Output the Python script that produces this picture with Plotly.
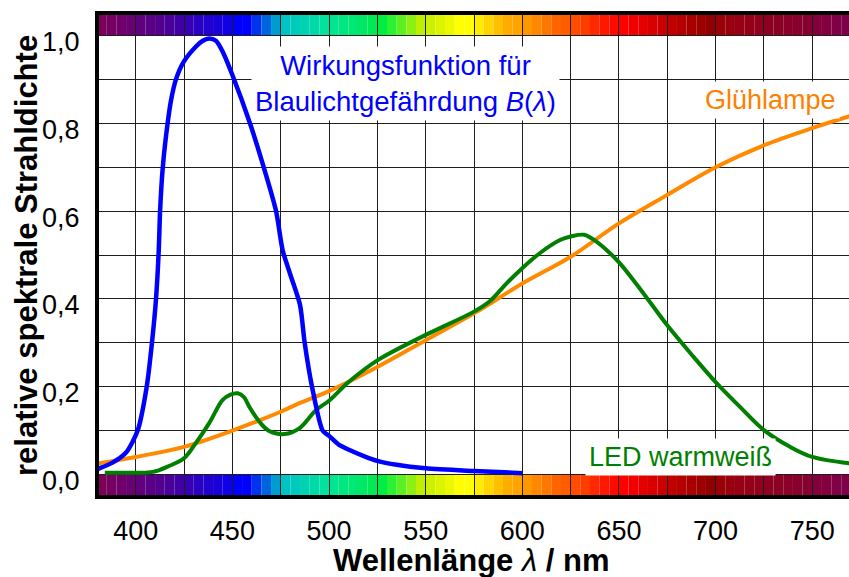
import plotly.graph_objects as go

# ---- data ----
wl_B = [380, 388, 395, 401, 405.7, 408.4, 410.5, 411.9, 412.6, 414, 416.5, 418.3, 420.8, 424.8, 431.2, 434.7,
        438, 441.5, 445, 450, 459.1, 466.2, 472.6, 476, 480, 485, 487.4, 491.2, 496.7, 500, 505, 510, 518,
        525, 535, 550, 575, 600]
val_B = [0.012, 0.027, 0.05, 0.10, 0.20, 0.30, 0.40, 0.51, 0.60, 0.70, 0.80, 0.853, 0.90, 0.94, 0.975, 0.988,
         0.993, 0.988, 0.963, 0.91, 0.80, 0.70, 0.60, 0.511, 0.455, 0.386, 0.30, 0.20, 0.10, 0.088, 0.068,
         0.057, 0.042, 0.031, 0.022, 0.014, 0.008, 0.003]

wl_gluehlampe = [380, 400, 425, 450, 475, 485, 500, 525, 550, 575, 600, 625, 650, 675, 700, 725, 750, 770]
val_gluehlampe = [0.025, 0.04, 0.063, 0.10, 0.143, 0.163, 0.19, 0.245, 0.306, 0.367, 0.435, 0.496, 0.572,
                  0.637, 0.70, 0.75, 0.789, 0.817]

wl_led = [384, 400, 409, 416.5, 425, 431, 438, 445, 449, 452.8, 456, 458.8, 464, 469, 477, 484.6, 493.3,
          500, 510, 525, 550, 575, 583, 592, 599, 609, 619.5, 625, 632, 638.5, 643.7, 650.5, 662.6, 675.5,
          688.6, 700.5, 712.6, 725, 738.5, 750, 770]
val_led = [0.004, 0.004, 0.006, 0.018, 0.037, 0.071, 0.117, 0.17, 0.182, 0.185, 0.176, 0.154, 0.12, 0.099,
           0.092, 0.105, 0.147, 0.168, 0.21, 0.26, 0.318, 0.371, 0.394, 0.436, 0.466, 0.504, 0.534, 0.542,
           0.546, 0.53, 0.511, 0.481, 0.413, 0.337, 0.268, 0.208, 0.154, 0.101, 0.063, 0.04, 0.025]

x_tick_vals = [400, 450, 500, 550, 600, 650, 700, 750]
x_tick_text = ["400", "450", "500", "550", "600", "650", "700", "750"]
y_tick_vals = [0.0, 0.2, 0.4, 0.6, 0.8, 1.0]
y_tick_text = ["0,0", "0,2", "0,4", "0,6", "0,8", "1,0"]

# spectrum colour strip, one cell per 5 nm starting at 380 nm
spectrum_start = 380
spectrum_step = 5
spectrum_colors = [
    "#7b0057", "#750061", "#6f006a", "#690073", "#61007e", "#5a0086", "#53008e", "#4b0097",
    "#4000a6", "#3500b5", "#2a00c2", "#2000cc", "#1800d8", "#1000e6", "#0000ff", "#0000ff",
    "#0032f0", "#0064e0", "#009cd0", "#00c4c4", "#00cabb", "#00d2b2", "#00daa8", "#00e29e",
    "#00e690", "#00e682", "#00e874", "#00e866", "#00ea56", "#00ee44", "#2cf032", "#5cf024",
    "#8cf014", "#bcf000", "#ccf000", "#dcf400", "#ecf800", "#ffff00", "#ffff00", "#ffec00",
    "#ffd400", "#ffc000", "#ffac00", "#ffa400", "#ff9800", "#ff8800", "#ff7600", "#ff6400",
    "#ff5c00", "#ff4c00", "#ff3c00", "#ff2800", "#ff1800", "#ff0a00", "#ff0000", "#f00000",
    "#e40000", "#d80000", "#cc0000", "#c00000", "#b40000", "#a80000", "#9c0000", "#900000",
    "#9a0008", "#980010", "#960014", "#940018", "#92001c", "#8e0020", "#8c0024", "#8a0028",
    "#88002c", "#860030", "#84003a", "#820040", "#800046", "#7e004a",
]

# ---- figure ----
FONT = "Liberation Sans, Arial, sans-serif"
X_RANGE = [381.0, 769.0]
Y_RANGE = [-0.0467, 1.0467]
GRID = "#1e1e1e"

fig = go.Figure()

fig.add_trace(go.Scatter(x=wl_gluehlampe, y=val_gluehlampe, mode="lines",
                         line=dict(color="#ff8a00", width=4, shape="spline", smoothing=1.0),
                         showlegend=False, hoverinfo="skip"))
fig.add_trace(go.Scatter(x=wl_led, y=val_led, mode="lines",
                         line=dict(color="#007f00", width=4, shape="spline", smoothing=1.0),
                         showlegend=False, hoverinfo="skip"))
fig.add_trace(go.Scatter(x=wl_B, y=val_B, mode="lines",
                         line=dict(color="#0000ff", width=4.5, shape="spline", smoothing=0.7),
                         showlegend=False, hoverinfo="skip"))

shapes = []
for i, c in enumerate(spectrum_colors):
    x0 = spectrum_start + i * spectrum_step
    x1 = x0 + spectrum_step
    for (y0, y1) in [(Y_RANGE[0], 0.0), (1.0, Y_RANGE[1])]:
        shapes.append(dict(type="rect", xref="x", yref="y", x0=x0, x1=x1, y0=y0, y1=y1,
                           fillcolor=c, line=dict(width=0), layer="below"))
fig.update_layout(shapes=shapes)

fig.add_annotation(x=539.5, y=0.89, xref="x", yref="y",
                   text="Wirkungsfunktion für<br>Blaulichtgefährdung <i>B</i>(<i>λ</i>)",
                   showarrow=False, align="center", bgcolor="white", borderpad=3,
                   font=dict(family=FONT, size=27.5, color="#0000ff"))
fig.add_annotation(x=728.3, y=0.853, xref="x", yref="y", text="Glühlampe",
                   showarrow=False, bgcolor="white", borderpad=3,
                   font=dict(family=FONT, size=27, color="#ff8000"))
fig.add_annotation(x=681.8, y=0.04, xref="x", yref="y", text="LED warmweiß",
                   showarrow=False, bgcolor="white", borderpad=3,
                   font=dict(family=FONT, size=27, color="#008000"))

# axis titles
fig.add_annotation(x=-0.096, y=0.498, xref="paper", yref="paper",
                   text="<b>relative spektrale Strahldichte</b>", textangle=-90,
                   showarrow=False, xanchor="center", yanchor="middle",
                   font=dict(family=FONT, size=31, color="black"))
fig.add_annotation(x=0.497, y=-0.137, xref="paper", yref="paper",
                   text="<b>Wellenlänge </b><i>λ</i><b> / nm</b>",
                   showarrow=False, xanchor="center", yanchor="middle",
                   font=dict(family=FONT, size=31, color="black"))

fig.update_xaxes(range=X_RANGE, tickvals=x_tick_vals, ticktext=x_tick_text,
                 showgrid=True, gridcolor=GRID, gridwidth=1,
                 minor=dict(tick0=400, dtick=25, showgrid=True, gridcolor=GRID, gridwidth=1),
                 showline=True, linecolor="black", linewidth=4, mirror=True,
                 ticks="", ticklabelstandoff=9, zeroline=False,
                 tickfont=dict(family=FONT, size=27, color="black"))
fig.update_yaxes(range=Y_RANGE, tickvals=y_tick_vals, ticktext=y_tick_text,
                 showgrid=True, gridcolor=GRID, gridwidth=1,
                 minor=dict(tick0=0, dtick=0.1, showgrid=True, gridcolor=GRID, gridwidth=1),
                 showline=True, linecolor="black", linewidth=4, mirror=False,
                 ticks="", ticklabelstandoff=10, ticklabelshift=6, zeroline=False,
                 tickfont=dict(family=FONT, size=27, color="black"))

fig.update_layout(width=849, height=577,
                  margin=dict(l=99, r=0, t=15, b=82),
                  paper_bgcolor="white", plot_bgcolor="white",
                  font=dict(family=FONT))

fig.write_html("out.html")
